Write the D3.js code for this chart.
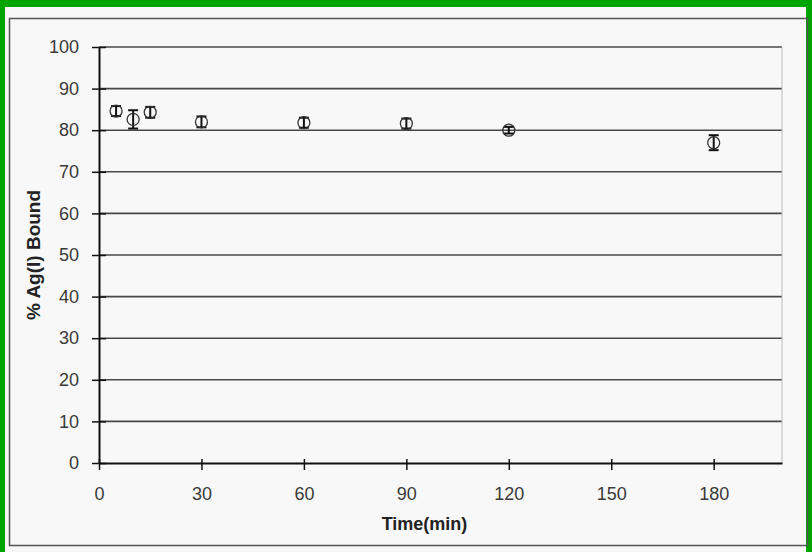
<!DOCTYPE html>
<html>
<head>
<meta charset="utf-8">
<script src="https://cdn.jsdelivr.net/npm/d3@7"></script>
<style>
  body { margin: 0; background: #fff; }
  svg { display: block; }
</style>
</head>
<body>
<div id="chart"></div>
<script>
// data
const times = [5, 10, 15, 30, 60, 90, 120, 180];
const bound = [84.6, 82.6, 84.3, 82.0, 81.8, 81.6, 80.0, 77.0];
const errs = [1.2, 2.2, 1.3, 1.3, 1.2, 1.2, 0.8, 1.8];
const xTicks = [0, 30, 60, 90, 120, 150, 180];
const yTicks = [0, 10, 20, 30, 40, 50, 60, 70, 80, 90, 100];

const W = 812, H = 552;
const margin = {top: 47, right: 30, bottom: 89, left: 99};

const svg = d3.select("#chart").append("svg")
    .attr("width", W).attr("height", H);

// green outer frame and paper
svg.append("rect").attr("width", W).attr("height", H).attr("fill", "#00a400");
svg.append("rect").attr("x", 5).attr("y", 7).attr("width", W - 11).attr("height", H - 7)
    .attr("fill", "#f8f8f8");
// inner chart border
svg.append("rect").attr("x", 9.5).attr("y", 18.5).attr("width", 798).attr("height", 527)
    .attr("fill", "none").attr("stroke", "#555").attr("stroke-width", 1.5);

const x = d3.scaleLinear().domain([0, 200]).range([margin.left, W - margin.right]);
const y = d3.scaleLinear().domain([0, 100]).range([H - margin.bottom, margin.top]);

// gridlines
svg.append("g")
    .selectAll("line")
    .data(yTicks.filter(d => d > 0))
    .join("line")
    .attr("x1", x(0)).attr("x2", x(200))
    .attr("y1", d => y(d)).attr("y2", d => y(d))
    .attr("stroke", "#2a2a2a").attr("stroke-width", 1.6).attr("opacity", 0.85);

// right edge of plot area (faint)
svg.append("line")
    .attr("x1", x(200)).attr("x2", x(200)).attr("y1", y(100)).attr("y2", y(0))
    .attr("stroke", "#bbb").attr("stroke-width", 1);

// axes
const xAxis = svg.append("g")
    .attr("transform", `translate(0,${y(0)})`)
    .call(d3.axisBottom(x).tickValues(xTicks).tickSize(7).tickSizeOuter(0).tickPadding(17));
const yAxis = svg.append("g")
    .attr("transform", `translate(${x(0)},0)`)
    .call(d3.axisLeft(y).tickValues(yTicks).tickSize(7).tickSizeOuter(0).tickPadding(13));

[xAxis, yAxis].forEach(g => {
  g.select(".domain").attr("stroke", "#111").attr("stroke-width", 2);
  g.selectAll(".tick line").attr("stroke", "#111").attr("stroke-width", 1.5);
  g.selectAll("text")
    .attr("font-family", "Liberation Sans, Arial, sans-serif")
    .attr("font-size", 18).attr("fill", "#3a3a3a");
});
yAxis.selectAll(".tick line").attr("x2", 7).attr("x1", -7);
xAxis.selectAll(".tick line").attr("y1", -4).attr("y2", 7);

// axis titles
svg.append("text")
    .attr("x", (x(0) + x(200)) / 2 - 16).attr("y", 530)
    .attr("text-anchor", "middle")
    .attr("font-family", "Liberation Sans, Arial, sans-serif")
    .attr("font-size", 18).attr("font-weight", "bold").attr("fill", "#222")
    .text("Time(min)");
svg.append("text")
    .attr("transform", `translate(40,${y(50)}) rotate(-90)`)
    .attr("text-anchor", "middle")
    .attr("font-family", "Liberation Sans, Arial, sans-serif")
    .attr("font-size", 19).attr("font-weight", "bold").attr("fill", "#222")
    .text("% Ag(I) Bound");

// points with error bars
const pts = times.map((t, i) => ({t: t, v: bound[i], e: errs[i]}));
const pg = svg.append("g").selectAll("g").data(pts).join("g");
pg.append("line")
    .attr("x1", d => x(d.t)).attr("x2", d => x(d.t))
    .attr("y1", d => y(d.v - d.e)).attr("y2", d => y(d.v + d.e))
    .attr("stroke", "#111").attr("stroke-width", 2);
pg.selectAll("line.cap")
    .data(d => [d.v - d.e, d.v + d.e].map(v => ({t: d.t, v: v})))
    .join("line").attr("class", "cap")
    .attr("x1", d => x(d.t) - 5).attr("x2", d => x(d.t) + 5)
    .attr("y1", d => y(d.v)).attr("y2", d => y(d.v))
    .attr("stroke", "#111").attr("stroke-width", 2);
pg.append("circle")
    .attr("cx", d => x(d.t)).attr("cy", d => y(d.v))
    .attr("r", 6)
    .attr("fill", "none").attr("stroke", "#333").attr("stroke-width", 1.3);
</script>
</body>
</html>
